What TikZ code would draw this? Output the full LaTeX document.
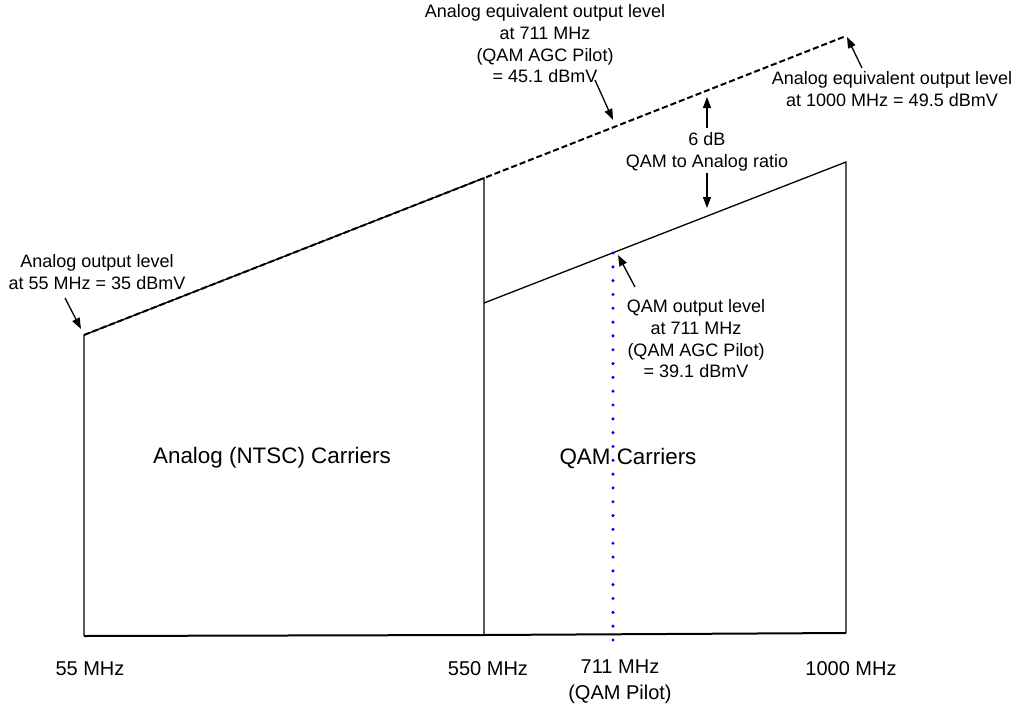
\documentclass[tikz,border=0pt]{standalone}
\usepackage{fontspec}
\setmainfont{Liberation Sans}
\usetikzlibrary{arrows.meta}

\begin{document}
\begin{tikzpicture}[x=1pt,y=-1pt,
	note/.style={align=center, inner sep=0, font=\fontsize{18}{21.7}\selectfont},
	band/.style={inner sep=0, font=\fontsize{22.4}{26}\selectfont},
	freq/.style={align=center, inner sep=0, font=\fontsize{20}{26}\selectfont},
	pointer/.style={line width=1.3pt, -{Triangle[length=11pt,width=8pt]}},
	edge/.style={line width=1.3pt}]
		\useasboundingbox (0,0) rectangle (1014,707);
		% corners of the spectrum
		\coordinate (lowB) at (84,636);
		\coordinate (lowT) at (84,335);
		\coordinate (midB) at (484,635);
		\coordinate (midT) at (484,178);
		\coordinate (midQ) at (484,303);
		\coordinate (highB) at (846,633);
		\coordinate (highQ) at (846,162);
		\coordinate (highA) at (846,36);
		\coordinate (pilotT) at (613,253);
		\coordinate (pilotB) at (613,640);
		\draw[edge] (lowB) -- (lowT) -- (midT) -- (midB);
		\draw[edge] (midQ) -- (highQ) -- (highB);
		\draw[line width=2pt] (lowB) -- (midB) -- (highB);
		\draw[line width=2pt, dash pattern=on 6pt off 3pt] (lowT) -- (highA);
		\draw[blue, line width=3.4pt, line cap=round, dash pattern=on 0pt off 13.82pt] (pilotT) -- (pilotB);
		% carriers
		\node[band] (analog) at (272,458) {Analog (NTSC) Carriers};
		\node[band] (qam) at (628,458) {QAM Carriers};
		% frequencies
		\node[freq] (f55) at (90,669) {55 MHz};
		\node[freq] (f550) at (488,669) {550 MHz};
		\node[freq] (f711) at (620,682) {711 MHz\\(QAM Pilot)};
		\node[freq] (f1000) at (851,669) {1000 MHz};
		% levels
		\node[note] (lvl55) at (97,272) {Analog output level\\at 55 MHz = 35 dBmV};
		\node[note] (eq711) at (545,44) {Analog equivalent output level\\at 711 MHz\\(QAM AGC Pilot)\\= 45.1 dBmV};
		\node[note] (eq1000) at (892,89) {Analog equivalent output level\\at 1000 MHz = 49.5 dBmV};
		\node[note] (ratio) at (707,152) {6 dB\\QAM to Analog ratio};
		\node[note] (qam711) at (696,339) {QAM output level\\at 711 MHz\\(QAM AGC Pilot)\\= 39.1 dBmV};
		% pointers
		\coordinate (lvl55tail) at (65,298);
		\coordinate (lvl55head) at (81,329);
		\coordinate (eq711tail) at (595,80);
		\coordinate (eq711head) at (613,120);
		\coordinate (eq1000tail) at (862,68);
		\coordinate (eq1000head) at (847,37);
		\coordinate (ratioup) at (707,128);
		\coordinate (ratiouphead) at (707,97);
		\coordinate (ratiodown) at (707,173);
		\coordinate (ratiodownhead) at (707,208);
		\coordinate (qam711tail) at (635,287);
		\coordinate (qam711head) at (618,255);
		\draw[pointer] (lvl55tail) -- (lvl55head);
		\draw[pointer] (eq711tail) -- (eq711head);
		\draw[pointer] (eq1000tail) -- (eq1000head);
		\draw[pointer] (ratioup) -- (ratiouphead);
		\draw[pointer] (ratiodown) -- (ratiodownhead);
		\draw[pointer] (qam711tail) -- (qam711head);
\end{tikzpicture}
\end{document}
